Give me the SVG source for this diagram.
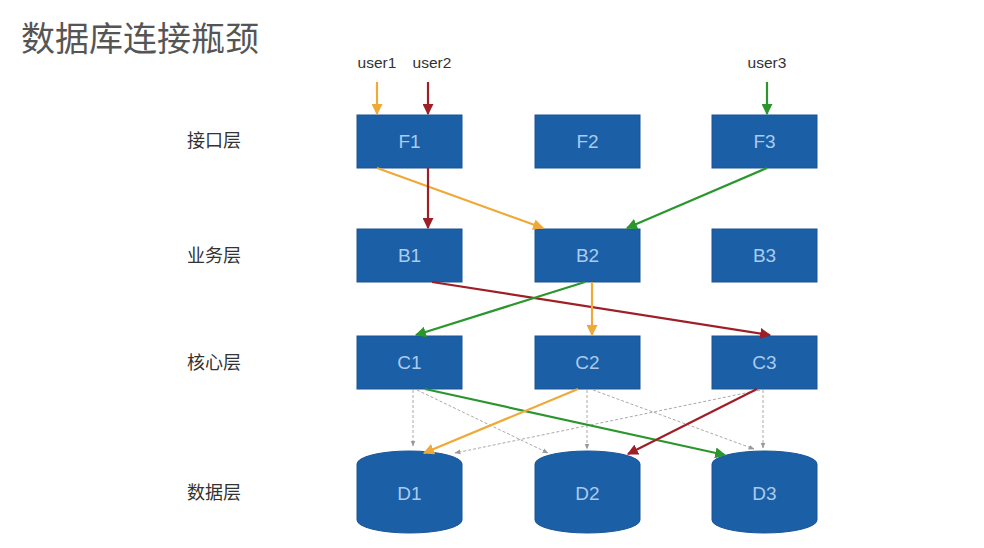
<svg xmlns="http://www.w3.org/2000/svg" width="984" height="548" viewBox="0 0 984 548">
<style>
.box{fill:#1b5fa6;stroke:#1a5596;stroke-width:1}
.lbl{font-family:"Liberation Sans",Arial,sans-serif;font-size:19px;fill:#a9cbef;text-anchor:middle}
.layer{font-family:"Noto Sans CJK SC",sans-serif;font-size:18px;fill:#333;text-anchor:middle}
.user{font-family:"Liberation Sans",Arial,sans-serif;font-size:15.5px;fill:#333;text-anchor:middle}
.o{stroke:#f0a836;stroke-width:2.2;fill:none;marker-end:url(#ao)}
.r{stroke:#9e1f25;stroke-width:2.2;fill:none;marker-end:url(#ar)}
.g{stroke:#2b962e;stroke-width:2.2;fill:none;marker-end:url(#ag)}
.d{stroke:#aaa;stroke-width:1;stroke-dasharray:3,2;fill:none;marker-end:url(#ad)}
</style>
<defs>
<marker id="ao" viewBox="0 0 10 10" refX="9" refY="5" markerWidth="5" markerHeight="5" orient="auto"><path d="M0,0 L10,5 L0,10 z" fill="#f0a836"/></marker>
<marker id="ar" viewBox="0 0 10 10" refX="9" refY="5" markerWidth="5" markerHeight="5" orient="auto"><path d="M0,0 L10,5 L0,10 z" fill="#9e1f25"/></marker>
<marker id="ag" viewBox="0 0 10 10" refX="9" refY="5" markerWidth="5" markerHeight="5" orient="auto"><path d="M0,0 L10,5 L0,10 z" fill="#2b962e"/></marker>
<marker id="ad" viewBox="0 0 10 10" refX="9" refY="5" markerWidth="6" markerHeight="6" orient="auto"><path d="M0,1 L10,5 L0,9 z" fill="#999"/></marker>
</defs>
<rect width="984" height="548" fill="#fff"/>
<text x="21" y="51" font-family="Noto Sans CJK SC,sans-serif" font-size="34" fill="#555">数据库连接瓶颈</text>
<g id="layers">
<text class="layer" x="214" y="147">接口层</text>
<text class="layer" x="214" y="262">业务层</text>
<text class="layer" x="214" y="369">核心层</text>
<text class="layer" x="214" y="499">数据层</text>
</g>
<g id="users">
<text class="user" x="377" y="68">user1</text>
<text class="user" x="432" y="68">user2</text>
<text class="user" x="767" y="68">user3</text>
</g>
<g id="F1"><rect class="box" x="357" y="115" width="105" height="53"/><text class="lbl" x="409.5" y="148">F1</text></g>
<g id="F2"><rect class="box" x="535" y="115" width="105" height="53"/><text class="lbl" x="587.5" y="148">F2</text></g>
<g id="F3"><rect class="box" x="712" y="115" width="105" height="53"/><text class="lbl" x="764.5" y="148">F3</text></g>
<g id="B1"><rect class="box" x="357" y="229" width="105" height="53"/><text class="lbl" x="409.5" y="262">B1</text></g>
<g id="B2"><rect class="box" x="535" y="229" width="105" height="53"/><text class="lbl" x="587.5" y="262">B2</text></g>
<g id="B3"><rect class="box" x="712" y="229" width="105" height="53"/><text class="lbl" x="764.5" y="262">B3</text></g>
<g id="C1"><rect class="box" x="357" y="336" width="105" height="53"/><text class="lbl" x="409.5" y="369">C1</text></g>
<g id="C2"><rect class="box" x="535" y="336" width="105" height="53"/><text class="lbl" x="587.5" y="369">C2</text></g>
<g id="C3"><rect class="box" x="712" y="336" width="105" height="53"/><text class="lbl" x="764.5" y="369">C3</text></g>
<g id="D1"><path class="box" d="M357,464 A52.5,13 0 0 1 462,464 L462,520 A52.5,13 0 0 1 357,520 Z"/><text class="lbl" x="409.5" y="500">D1</text></g>
<g id="D2"><path class="box" d="M535,464 A52.5,13 0 0 1 640,464 L640,520 A52.5,13 0 0 1 535,520 Z"/><text class="lbl" x="587.5" y="500">D2</text></g>
<g id="D3"><path class="box" d="M712,464 A52.5,13 0 0 1 817,464 L817,520 A52.5,13 0 0 1 712,520 Z"/><text class="lbl" x="764.5" y="500">D3</text></g>
<g id="connectors">
<path class="d" d="M413,390 L413,446"/>
<path class="d" d="M417,390 L548,453"/>
<path class="d" d="M587,390 L587,449"/>
<path class="d" d="M593,390 L754,449"/>
<path class="d" d="M763,390 L763,448"/>
<path class="d" d="M760,390 L455,453"/>
<path class="o" d="M377,82 L377,114"/>
<path class="r" d="M428,82 L428,114"/>
<path class="g" d="M767,82 L767,114"/>
<path class="o" d="M377,168 L543,228"/>
<path class="r" d="M428,168 L428,228"/>
<path class="g" d="M767,168 L627,228"/>
<path class="r" d="M432,282 L770,335"/>
<path class="g" d="M585,282 L416,335"/>
<path class="o" d="M592,282 L592,335"/>
<path class="g" d="M425,389 L725,455"/>
<path class="o" d="M578,389 L424,453"/>
<path class="r" d="M757,389 L628,454"/>
</g>
</svg>
